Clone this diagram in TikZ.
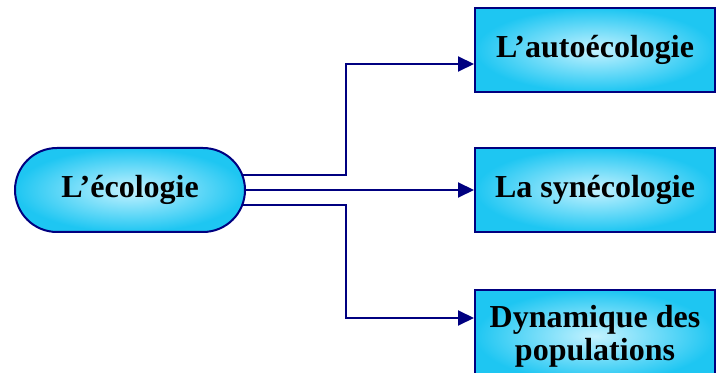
\documentclass[tikz,border=0pt]{standalone}
\usepackage{fontspec}
\setmainfont{Liberation Serif}
\usetikzlibrary{arrows.meta,backgrounds}
\definecolor{navyline}{HTML}{000080}
\definecolor{cyanlite}{HTML}{C4F2FF}
\definecolor{cyandeep}{HTML}{1EC6F2}

\begin{document}
\begin{tikzpicture}[x=1pt,y=1pt,
box/.style={draw=navyline,line width=2pt,shade,inner color=cyanlite,outer color=cyandeep,
minimum width=240pt,minimum height=84pt,inner sep=0pt,align=center,
font=\fontsize{32}{33}\selectfont\bfseries},
link/.style={navyline,line width=2pt},
arr/.style={link,-{Triangle[length=16pt,width=15pt]}}]
\useasboundingbox (0,0) rectangle (717,372);
\node[box,minimum width=230pt,rounded corners=42pt](eco) at (130,182) {L’écologie};
\node[box](auto) at (595,322) {L’autoécologie};
\node[box](syn) at (595,182) {La synécologie};
\node[box,minimum height=92pt](dyn) at (595,36) {Dynamique des\\populations};
\begin{scope}[on background layer]
\draw[arr] ([yshift=15pt]eco.center) -| ([xshift=-128pt,yshift=-14pt]auto.west) -- ([yshift=-14pt]auto.west);
\draw[arr] (eco.center) -- (syn.west);
\draw[arr] ([yshift=-15pt]eco.center) -| ([xshift=-128pt,yshift=18pt]dyn.west) -- ([yshift=18pt]dyn.west);
\end{scope}
\end{tikzpicture}
\end{document}
